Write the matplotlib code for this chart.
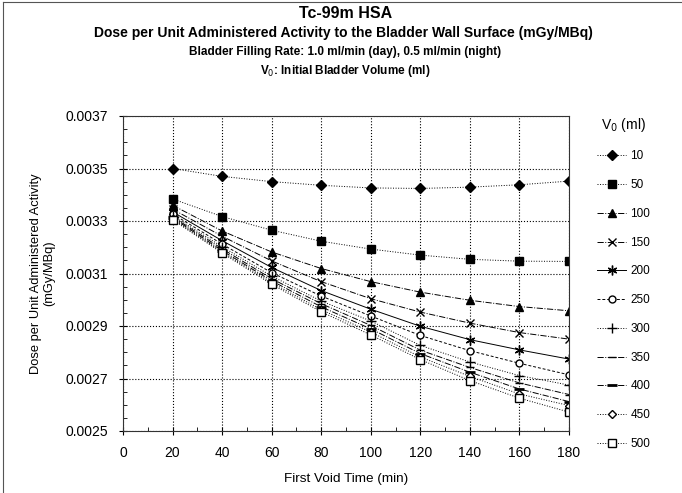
import numpy as np
import matplotlib
matplotlib.use('Agg')
from matplotlib import pyplot as plt
from matplotlib.ticker import MultipleLocator, FormatStrFormatter

plt.rcParams['font.family'] = ['Liberation Sans', 'DejaVu Sans']

# first void time (min)
void_time = [20, 40, 60, 80, 100, 120, 140, 160, 180]

# initial bladder volume (ml) -> dose (mGy/MBq)
volumes = ['10', '50', '100', '150', '200', '250', '300', '350', '400', '450', '500']
d10 = [0.003500, 0.003470, 0.003450, 0.003436, 0.003426, 0.003424, 0.003429, 0.003438, 0.003452]
d50 = [0.003384, 0.003317, 0.003265, 0.003223, 0.003193, 0.003170, 0.003154, 0.003147, 0.003146]
d100 = [0.003360, 0.003262, 0.003182, 0.003119, 0.003069, 0.003029, 0.002998, 0.002974, 0.002958]
d150 = [0.003345, 0.003242, 0.003148, 0.003069, 0.003004, 0.002953, 0.002911, 0.002875, 0.002850]
d200 = [0.003335, 0.003225, 0.003123, 0.003035, 0.002964, 0.002899, 0.002848, 0.002809, 0.002774]
d250 = [0.003327, 0.003212, 0.003103, 0.003014, 0.002938, 0.002864, 0.002806, 0.002758, 0.002714]
d300 = [0.003320, 0.003202, 0.003090, 0.002995, 0.002919, 0.002826, 0.002763, 0.002711, 0.002675]
d350 = [0.003316, 0.003194, 0.003080, 0.002985, 0.002902, 0.002808, 0.002742, 0.002683, 0.002639]
d400 = [0.003312, 0.003187, 0.003072, 0.002973, 0.002889, 0.002795, 0.002724, 0.002660, 0.002612]
d450 = [0.003308, 0.003182, 0.003065, 0.002962, 0.002877, 0.002782, 0.002708, 0.002641, 0.002597]
d500 = [0.003305, 0.003178, 0.003059, 0.002954, 0.002866, 0.002772, 0.002692, 0.002625, 0.002572]

series = [d10, d50, d100, d150, d200, d250, d300, d350, d400, d450, d500]
yticks = [0.0025, 0.0027, 0.0029, 0.0031, 0.0033, 0.0035, 0.0037]

# marker / line style for each volume
styles = [
    dict(marker='D', ms=5, mfc='black', ls=':'),
    dict(marker='s', ms=5.5, mfc='black', ls=':'),
    dict(marker='^', ms=5.5, mfc='black', ls='-.'),
    dict(marker='x', ms=6, mfc='none', ls='-.'),
    dict(marker=(6, 2, 0), ms=7, mfc='none', ls='-'),
    dict(marker='o', ms=5, mfc='white', ls=(0, (3, 2))),
    dict(marker='+', ms=7, mfc='none', ls=':'),
    dict(marker='_', ms=6, mfc='none', ls='-.'),
    dict(marker='_', ms=7, mfc='none', ls='-.', mew=2),
    dict(marker='D', ms=4.5, mfc='white', ls=':'),
    dict(marker='s', ms=5.5, mfc='white', ls=':'),
]

fig = plt.figure(figsize=(6.82, 4.93), dpi=100)
ax = fig.add_axes([123/682, 1 - 431/493, (569-123)/682, (431-116)/493])

lines = []
for vals, st, lab in zip(series, styles, volumes):
    st = dict(st)
    mew = st.pop('mew', 1.0)
    l, = ax.plot(void_time, vals, color='black', lw=0.7, mec='black',
                 mew=mew, label=lab, **st)
    lines.append(l)

ax.set_xlim(0, 180)
ax.set_ylim(0.0025, 0.0037)
ax.xaxis.set_major_locator(MultipleLocator(20))
ax.xaxis.set_minor_locator(MultipleLocator(10))
ax.set_yticks(yticks)
ax.yaxis.set_minor_locator(MultipleLocator(0.00005))
ax.yaxis.set_major_formatter(FormatStrFormatter('%.4f'))
ax.grid(True, which='major', ls=':', color='black', lw=0.8)
ax.tick_params(which='major', direction='inout', length=6, width=0.8, labelsize=10, pad=8)
ax.tick_params(which='minor', direction='in', length=3, width=0.6)
for s in ax.spines.values():
    s.set_linewidth(0.8)
    s.set_color('#333333')

ax.set_xlabel('First Void Time (min)', fontsize=9.7, labelpad=9)
ax.set_ylabel('Dose per Unit Administered Activity\n(mGy/MBq)', fontsize=9.3, labelpad=7)

fig.text(0.506, 1 - 13/493, 'Tc-99m HSA', ha='center', va='center',
         fontsize=11.5, fontweight='bold')
fig.text(0.503, 1 - 33/493,
         'Dose per Unit Administered Activity to the Bladder Wall Surface (mGy/MBq)',
         ha='center', va='center', fontsize=10, fontweight='bold')
fig.text(0.506, 1 - 52/493, 'Bladder Filling Rate: 1.0 ml/min (day), 0.5 ml/min (night)',
         ha='center', va='center', fontsize=8.5, fontweight='bold')
fig.text(0.506, 1 - 71/493, 'V$_0$: Initial Bladder Volume (ml)',
         ha='center', va='center', fontsize=8.5, fontweight='bold')

leg = ax.legend(handles=lines, loc='upper left', bbox_to_anchor=(1.04, 1.035),
                frameon=False, fontsize=8.5, title='V$_0$ (ml)', title_fontsize=10,
                handlelength=2.4, labelspacing=1.42, handletextpad=0.4)

# outer chart border (top and left edges visible)
fig.add_artist(plt.Line2D([0.005, 1.0], [0.995, 0.995], transform=fig.transFigure,
                          lw=0.8, color='#555555'))
fig.add_artist(plt.Line2D([0.005, 0.005], [0.0, 0.995], transform=fig.transFigure,
                          lw=0.8, color='#555555'))

plt.savefig('out.png', dpi=100)
